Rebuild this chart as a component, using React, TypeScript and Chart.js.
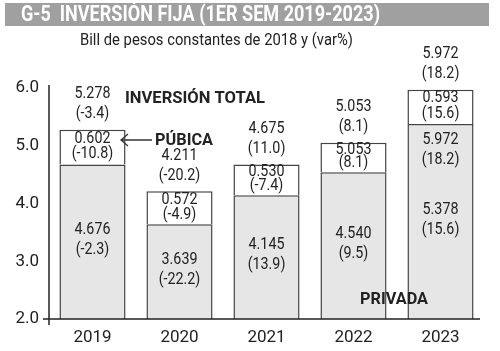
import React, { useEffect, useRef } from "react";
import { Chart, registerables } from "chart.js";
Chart.register(...registerables);

const years = ["2019", "2020", "2021", "2022", "2023"];
const privada = [4.676, 3.639, 4.145, 4.54, 5.378];
const publica = [0.602, 0.572, 0.53, 0.513, 0.593];
const total = [5.278, 4.211, 4.675, 5.053, 5.972];
const privadaVar = [-2.3, -22.2, 13.9, 9.5, 15.6];
const totalVar = [-3.4, -20.2, 11.0, 8.1, 18.2];
const publicaText = ["0.602", "0.572", "0.530", "5.053", "0.593"];
const publicaVarText = ["(-10.8)", "(-4.9)", "(-7.4)", "(8.1)", "(15.6)"];
const extraPrivadaText: (string[] | null)[] = [null, null, null, null, ["5.972", "(18.2)"]];
const yMin = 2;
const yMax = 6;

const TITLE = "G-5  INVERSIÓN FIJA (1ER SEM 2019-2023)";
const SUBTITLE = "Bill de pesos constantes de 2018 y (var%)";

function hasFont(name: string) {
  const c = document.createElement("canvas").getContext("2d")!;
  c.font = "20px monospace";
  const a = c.measureText("abcdefghijklmnopWM0123").width;
  c.font = `20px '${name}', monospace`;
  const b = c.measureText("abcdefghijklmnopWM0123").width;
  return a !== b;
}

export default function App() {
  const ref = useRef<HTMLCanvasElement>(null);
  useEffect(() => {
    const narrow = hasFont("Liberation Sans Narrow");
    const fam = narrow ? "'Liberation Sans Narrow'" : "Roboto";
    const sx = narrow ? 1 : 0.84;
    const fmtVar = (v: number) => `(${v.toFixed(1)})`;

    const txt = (
      ctx: CanvasRenderingContext2D,
      s: string,
      x: number,
      y: number,
      size: number,
      bold = false,
      color = "#222",
      align: CanvasTextAlign = "center",
      fitW?: number
    ) => {
      ctx.save();
      ctx.font = `${bold ? "bold " : ""}${size}px ${fam}`;
      ctx.fillStyle = color;
      ctx.textAlign = align;
      ctx.textBaseline = "middle";
      let k = sx;
      if (fitW) k = fitW / ctx.measureText(s).width;
      ctx.translate(x, y);
      ctx.scale(k, 1);
      ctx.fillText(s, 0, 0);
      ctx.restore();
    };

    const plugin = {
      id: "deco",
      beforeDraw(chart: any) {
        const ctx = chart.ctx as CanvasRenderingContext2D;
        ctx.save();
        ctx.fillStyle = "#fff";
        ctx.fillRect(0, 0, chart.width, chart.height);
        ctx.fillStyle = "#a0a0a0";
        ctx.fillRect(5, 3, 484, 23);
        ctx.restore();
        txt(ctx, TITLE, 21, 15, 22, true, "#fff", "left", 359);
        txt(ctx, SUBTITLE, 80, 41, 17, false, "#222", "left", 273);
      },
      afterDatasetsDraw(chart: any) {
        const ctx = chart.ctx as CanvasRenderingContext2D;
        const area = chart.chartArea;
        const m0 = chart.getDatasetMeta(0);
        const m1 = chart.getDatasetMeta(1);
        ctx.save();
        ctx.strokeStyle = "#222";
        ctx.lineWidth = 1.5;
        ctx.beginPath();
        ctx.moveTo(area.left, area.top - 3);
        ctx.lineTo(area.left, area.bottom + 6);
        ctx.moveTo(area.left - 6, area.bottom);
        ctx.lineTo(area.right - 4, area.bottom);
        ctx.stroke();
        ctx.restore();

        years.forEach((_, i) => {
          const b0 = m0.data[i];
          const b1 = m1.data[i];
          const x = b0.x;
          const pTop = b0.y;
          const pBot = area.bottom;
          const mid = (pTop + pBot) / 2 - 2;
          txt(ctx, privada[i].toFixed(3), x, mid - 10, 17);
          txt(ctx, fmtVar(privadaVar[i]), x, mid + 10, 17);
          const ex = extraPrivadaText[i];
          if (ex) {
            txt(ctx, ex[0], x, pTop + 16, 17);
            txt(ctx, ex[1], x, pTop + 36, 17);
          }
          const gTop = b1.y;
          const gBot = b1.base;
          const h = gBot - gTop;
          const c = (gTop + gBot) / 2 - 1;
          const sp = Math.min(16, h * 0.45);
          txt(ctx, publicaText[i], x, c - sp / 2, 17);
          txt(ctx, publicaVarText[i], x, c + sp / 2, 17);
          txt(ctx, total[i].toFixed(3), x, gTop - 36, 17);
          txt(ctx, fmtVar(totalVar[i]), x, gTop - 16, 17);
        });

        txt(ctx, "INVERSIÓN TOTAL", 125, 99, 17, true, "#222", "left", 140);
        txt(ctx, "PÚBICA", 155, 141, 17, true, "#222", "left", 58);
        txt(ctx, "PRIVADA", 360, 300, 17, true, "#222", "left", 68);
        ctx.save();
        ctx.strokeStyle = "#333";
        ctx.lineWidth = 1.3;
        ctx.beginPath();
        ctx.moveTo(152, 140);
        ctx.lineTo(121, 140);
        ctx.moveTo(128, 134);
        ctx.lineTo(121, 140);
        ctx.lineTo(128, 146);
        ctx.stroke();
        ctx.restore();
      },
    };

    const chart = new Chart(ref.current!, {
      type: "bar",
      data: {
        labels: years,
        datasets: [
          {
            label: "Privada",
            data: privada,
            backgroundColor: "#e6e6e6",
            borderColor: "#444",
            borderWidth: { top: 1.5, left: 1.5, right: 1.5, bottom: 0 },
            borderSkipped: false,
            barPercentage: 1,
            categoryPercentage: 0.76,
            stack: "s",
          },
          {
            label: "Pública",
            data: publica,
            backgroundColor: "#ffffff",
            borderColor: "#444",
            borderWidth: { top: 1.5, left: 1.5, right: 1.5, bottom: 0 },
            borderSkipped: false,
            barPercentage: 1,
            categoryPercentage: 0.76,
            stack: "s",
          },
        ],
      },
      options: {
        responsive: false,
        animation: false,
        layout: { padding: { top: 88, right: 16, left: 0, bottom: 0 } },
        plugins: { legend: { display: false }, tooltip: { enabled: false } },
        scales: {
          x: {
            stacked: true,
            grid: { display: false, drawTicks: false },
            border: { display: false },
            ticks: { padding: 9, color: "#222", font: { family: fam, size: 17 } },
            afterFit: (s: any) => {
              s.height = 32;
            },
          },
          y: {
            stacked: true,
            min: yMin,
            max: yMax,
            grid: { display: false, drawTicks: false },
            border: { display: false },
            ticks: {
              stepSize: 1,
              padding: 10,
              color: "#222",
              font: { family: fam, size: 17 },
              callback: (v: any) => Number(v).toFixed(1),
            },
            afterFit: (s: any) => {
              s.width = 49;
            },
          },
        },
      },
      plugins: [plugin],
    });
    return () => chart.destroy();
  }, []);
  return (
    <div style={{ position: "fixed", left: 0, top: 0, width: 500, height: 351 }}>
      <canvas ref={ref} width={500} height={351} />
    </div>
  );
}
